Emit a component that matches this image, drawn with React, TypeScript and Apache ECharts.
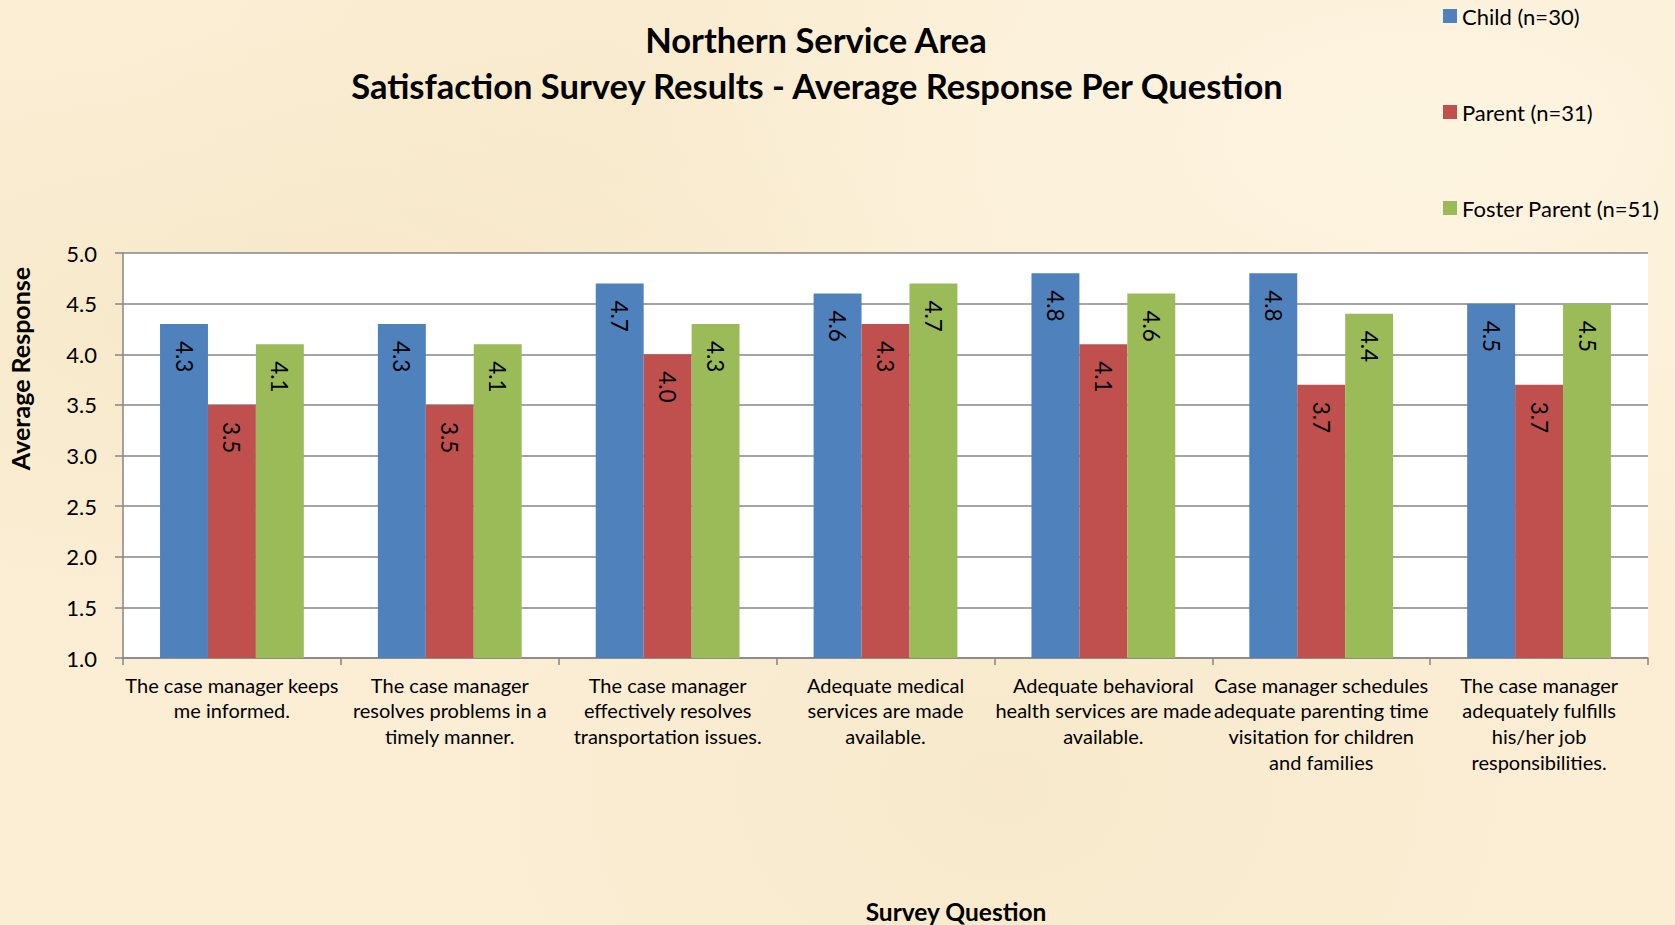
import React, { useEffect, useRef } from "react";
import * as echarts from "echarts";

const categories = [
  "The case manager keeps\nme informed.",
  "The case manager\nresolves problems in a\ntimely manner.",
  "The case manager\neffectively resolves\ntransportation issues.",
  "Adequate medical\nservices are made\navailable.",
  "Adequate behavioral\nhealth services are made\navailable.",
  "Case manager schedules\nadequate parenting time\nvisitation for children\nand families",
  "The case manager\nadequately fulfills\nhis/her job\nresponsibilities.",
];
const seriesNames = ["Child (n=30)", "Parent (n=31)", "Foster Parent (n=51)"];
const childValues = [4.3, 4.3, 4.7, 4.6, 4.8, 4.8, 4.5];
const parentValues = [3.5, 3.5, 4.0, 4.3, 4.1, 3.7, 3.7];
const fosterValues = [4.1, 4.1, 4.3, 4.7, 4.6, 4.4, 4.5];
const colors = ["#4F81BD", "#C0504D", "#9BBB59"];
const titleLines = [
  "Northern Service Area",
  "Satisfaction Survey Results - Average Response Per Question",
];
const yAxisName = "Average Response";
const xAxisName = "Survey Question";

const FONT = "Lato, 'Open Sans', sans-serif";

export default function App() {
  const ref = useRef<HTMLDivElement>(null);
  useEffect(() => {
    if (!ref.current) return;
    const chart = echarts.init(ref.current, undefined, { renderer: "svg" });
    const values = [childValues, parentValues, fosterValues];
    const boldText = (text: string, x: number, y: number, size: number, rotation = 0) => ({
      type: "text",
      x,
      y,
      rotation,
      style: {
        text,
        textAlign: "center",
        textVerticalAlign: "middle",
        fontFamily: FONT,
        fontWeight: "bold",
        fontSize: size,
        fill: "#000",
      },
    });
    chart.setOption({
      animation: false,
      backgroundColor: "transparent",
      textStyle: { fontFamily: FONT },
      graphic: [
        boldText(titleLines[0], 816, 39.5, 34.5),
        boldText(titleLines[1], 817, 85.5, 34.5),
        boldText(yAxisName, 20, 368.5, 25, Math.PI / 2),
        boldText(xAxisName, 956, 911, 24.5),
      ],
      legend: {
        orient: "vertical",
        left: 1438,
        top: 0,
        itemGap: 74,
        itemWidth: 14,
        itemHeight: 14,
        icon: "rect",
        textStyle: { fontFamily: FONT, fontSize: 22, color: "#000" },
        data: seriesNames,
      },
      grid: {
        left: 123,
        right: 27,
        top: 253,
        bottom: 267,
        show: true,
        backgroundColor: "#FFFFFF",
        borderWidth: 0,
        containLabel: false,
        outerBoundsMode: "none",
      },
      xAxis: {
        type: "category",
        data: categories,
        axisLine: { lineStyle: { color: "#868686", width: 1.5 } },
        axisTick: { show: true, length: 7, lineStyle: { color: "#868686", width: 1.5 } },
        axisLabel: {
          interval: 0,
          margin: 14,
          fontFamily: FONT,
          fontSize: 20,
          lineHeight: 25.6,
          color: "#000",
          verticalAlign: "top",
        },
      },
      yAxis: {
        type: "value",
        min: 1,
        max: 5,
        interval: 0.5,
        axisLine: { show: true, lineStyle: { color: "#868686", width: 1.5 } },
        axisTick: { show: true, length: 8, lineStyle: { color: "#868686", width: 1.5 } },
        splitLine: { lineStyle: { color: "#868686", width: 1.5 } },
        axisLabel: {
          margin: 26,
          fontFamily: FONT,
          fontSize: 22,
          color: "#000",
          formatter: (v: number) => v.toFixed(1),
        },
      },
      series: seriesNames.map((name, i) => ({
        name,
        type: "bar",
        data: values[i],
        barGap: "0%",
        barCategoryGap: "34%",
        itemStyle: { color: colors[i] },
        label: {
          show: true,
          position: "insideTop",
          distance: 17,
          rotate: -90,
          align: "left",
          verticalAlign: "middle",
          fontFamily: FONT,
          fontSize: 22.5,
          color: "#000",
          formatter: (p: any) => Number(p.value).toFixed(1),
        },
      })),
    });
    return () => chart.dispose();
  }, []);
  return (
    <div
      style={{
        position: "absolute",
        left: 0,
        top: 0,
        width: 1675,
        height: 925,
        background:
          "radial-gradient(ellipse at 15% 35%, rgba(240,222,180,0.35), transparent 35%), radial-gradient(ellipse at 60% 85%, rgba(240,222,180,0.3), transparent 40%), radial-gradient(ellipse at 85% 15%, rgba(255,250,235,0.5), transparent 40%), radial-gradient(ellipse at 35% 10%, rgba(244,228,190,0.3), transparent 30%), #FBEED5",
      }}
    >
      <div ref={ref} style={{ width: 1675, height: 925 }} />
    </div>
  );
}
